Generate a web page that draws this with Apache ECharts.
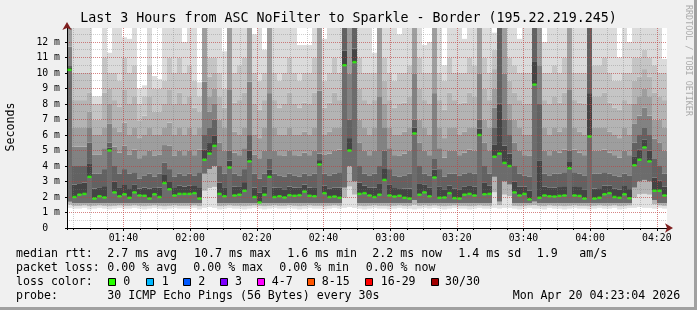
<!DOCTYPE html>
<html><head><meta charset="utf-8">
<script src="https://cdn.jsdelivr.net/npm/echarts/dist/echarts.min.js"></script>
<style>html,body{margin:0;padding:0;background:#f0f0f0}#c{width:697px;height:310px}</style>
</head><body><div id="c"></div>
<script>
// ---------------- data ----------------
const titleText = 'Last 3 Hours from ASC NoFilter to Sparkle - Border (195.22.219.245)';
const startMin = 83 + 4 / 60;   // 01:23:04
const spanMin = 180;            // 3 hours
const yMaxMs = 12.9;

// median rtt per column (ms)
const med = [
10.2,2.0,2.15,2.2,3.3,1.9,2.05,1.97,5.0,2.3,2.05,2.18,1.95,2.3,2.1,2.08,1.9,2.18,2.0,2.9,2.5,2.1,2.2,2.2,
2.2,2.25,1.9,4.4,4.8,5.3,2.2,2.05,3.9,2.1,2.15,2.4,4.3,2.0,1.65,2.15,3.3,2.0,2.05,1.97,2.12,2.08,2.12,2.35,
2.08,2.05,4.1,2.25,2.0,2.03,1.95,10.5,5.0,10.7,2.2,2.25,2.1,2.0,2.15,3.1,2.1,2.03,2.08,1.95,1.9,6.1,2.15,2.3,
2.05,3.26,1.95,1.97,2.25,1.93,1.9,2.15,2.2,2.1,6.0,2.18,2.2,4.6,4.8,4.2,4.0,2.3,2.1,2.2,1.85,9.25,1.95,2.1,
2.05,2.03,2.07,2.1,3.85,2.1,2.07,1.9,5.9,1.9,1.95,2.18,2.25,2.0,1.95,2.18,1.92,4.05,4.4,5.2,4.3,2.4,2.4,2.1
];
// smoke: lowest ping (ms)
const smokeLo = [
1.3,1.25,1.25,1.3,1.2,1.25,1.3,1.25,1.2,1.25,1.3,1.25,1.25,1.3,1.25,1.2,1.25,1.3,1.25,1.2,1.25,1.3,1.25,1.25,
1.25,1.3,1.2,1.3,1.35,1.3,1.2,1.25,1.3,1.25,1.25,1.2,1.25,1.3,1.25,1.2,1.25,1.3,1.25,1.25,1.3,1.25,1.2,1.25,
1.3,1.25,1.25,1.2,1.25,1.3,1.25,1.3,1.35,1.3,1.25,1.2,1.25,1.3,1.25,1.25,1.2,1.25,1.3,1.25,1.25,1.2,1.25,1.3,
1.25,1.3,1.25,1.2,1.25,1.3,1.25,1.25,1.2,1.25,1.3,1.25,1.25,1.3,1.25,1.3,1.3,1.25,1.2,1.25,1.3,1.25,1.25,1.2,
1.3,1.25,1.25,1.2,1.25,1.3,1.25,1.25,1.2,1.25,1.3,1.25,1.25,1.3,1.2,1.25,1.3,1.3,1.35,1.3,1.3,1.25,1.3,1.25
];
// smoke: top of sparse lower fringe (ms)
const smokeFringe = [
1.7,1.6,1.6,1.6,1.6,1.6,1.6,1.6,1.6,1.6,1.6,1.6,1.6,1.6,1.6,1.6,1.6,1.6,1.6,1.6,1.6,1.6,1.6,1.6,
1.6,1.6,1.6,3.5,3.8,4.0,1.6,1.6,1.6,1.6,1.6,1.6,1.6,1.6,1.6,1.6,1.6,1.6,1.6,1.6,1.6,1.6,1.6,1.6,
1.6,1.6,1.6,1.6,1.6,1.6,1.6,2.6,4.0,3.0,1.6,1.6,1.6,1.6,1.6,1.6,1.6,1.6,1.6,1.6,1.6,1.8,1.6,1.6,
1.6,1.6,1.6,1.6,1.6,1.6,1.6,1.6,1.6,1.6,1.6,1.6,1.6,3.3,1.7,3.0,2.8,1.6,1.6,1.6,1.6,1.7,1.6,1.6,
1.6,1.6,1.6,1.6,1.6,1.6,1.6,1.6,1.6,1.6,1.6,1.6,1.6,1.6,1.6,1.6,1.6,2.6,3.0,3.1,3.0,1.8,1.6,1.6
];
// smoke: top of dense dark band (ms)
const smokeDark = [
10.5,4,4,4,5.5,3.5,3.5,3.8,5.5,4,3.5,3.8,3.5,3.6,3.2,3.4,3.5,3.3,3.5,4.2,3.8,3.3,3.5,3.4,
3.5,3.4,3.6,6,6.5,7,4,3.5,5,3.5,3.4,3.8,6,3.5,3.2,3.5,4.5,3.5,3.4,3.3,3.5,3.4,3.3,3.5,
3.4,3.5,4.8,3.5,3.4,3.5,3.6,12.9,7,12.9,4,3.5,3.4,3.5,4,5,3.8,3.4,3.3,3.4,3.5,7,4,3.5,
3.4,4.5,3.8,3.3,3.5,3.5,3.4,3.5,3.6,3.5,7,4,3.5,6.5,12.9,7,6,4,3.5,3.4,3.3,12.9,8,3.5,
3.4,3.5,3.5,3.6,5,3.6,3.5,3.4,12.9,3.5,3.5,3.6,3.5,3.4,3.3,3.5,3.4,5.5,6,6.5,6,4.5,4,3.5
];
// smoke: top of medium band (ms)
const smokeMid = [
12.9,6.5,6.5,6.5,7.5,6,6,6.5,8,6.5,6.2,6.8,6,6.5,5.8,6,6.5,6,6,6.5,6.8,6,6.5,6,
6.5,6,6.5,12.9,8.5,9,7,6.5,12.9,6.2,6,6.5,12.9,6,5.8,6.5,12.9,6.5,6,6,6.5,6,6,6.2,
6,6.5,12.9,6,6.2,6.5,6.5,12.9,12.9,12.9,7,6.5,6,6.5,12.9,8,6.5,6,6,6.2,6.5,12.9,7,6.5,
6,12.9,6.5,5.8,6.5,6.5,6,6.2,6.5,6.5,12.9,7,6.5,9,12.9,12.9,8,7,6.5,6,6,12.9,12.9,6.5,
6,6.5,6.2,6.5,12.9,6.5,6.2,6,12.9,6.5,6.5,6.5,6.2,6,5.8,6.5,6,8,8.5,9,8.5,7,7,6.5
];
// smoke: top of light band (ms)
const smokeLight = [
12.9,10,10,10,10,8,8,11,10,10,9.5,11,10,10.5,8,8.5,10.5,9,9,9.5,11,10,11,10,
10.5,9.5,8.5,12.9,11,11,10,9,12.9,10,10.5,11,12.9,10,9.5,10,12.9,10,9.5,10,11,10,9.5,10,
10,11,12.9,9.5,10,11,10,12.9,12.9,12.9,11,10,10,10,12.9,11,10,9.5,10,10,10.5,12.9,11,10,
10,12.9,10,9.5,11,10,10,10,11,10.5,12.9,11,10,11.5,12.9,12.9,11,10.5,10,10,10,12.9,12.9,10,
10,10.5,10,11,12.9,10,10,10,12.9,10.5,10.5,11,10,9.5,9.5,10,10,11,11,11.5,11,10.5,10,10
];
// smoke: highest ping (ms)
const smokeHi = [
12.9,12.9,12.9,12.9,12.9,8.5,8.5,12.9,11.3,12.9,12.9,12.3,12.2,12.9,9,9.2,12.9,9.8,9.6,12.9,12.9,12.9,12.9,12,
12.9,12.9,9.4,12.9,12.9,12.9,12.9,11.4,12.9,12.9,12.9,12.9,12.9,12.5,12.9,11.5,12.9,12.9,12.9,12.9,12.9,12.9,11.8,11.8,
11.8,12.9,12.9,12.2,12.9,12.9,12.9,12.9,12.9,12.9,12.9,12.9,12.9,11.3,12.9,12.9,12.9,12.9,12.5,12.9,12.9,12.9,12.9,11.8,
12,12.9,12.9,10.5,12.9,12.9,12.9,12.2,12.9,12.9,12.9,12.9,12.9,12.6,12.9,12.9,12.9,12.9,12.2,12.9,12.9,12.9,12.9,12,
12.9,12.9,12.9,12.9,12.9,12.9,12.9,12.9,12.9,12.9,12.9,12.9,12.9,12.9,11,12.9,12,12.9,12.9,12.9,12.9,12.9,12.9,10.9
];

const rttItems  = ['median rtt:', '2.7 ms avg', '10.7 ms max', '1.6 ms min', '2.2 ms now', '1.4 ms sd', '1.9', 'am/s'];
const lossItems = ['packet loss:', '0.00 % avg', '0.00 % max', '0.00 % min', '0.00 % now'];
const lossColorLabel = 'loss color:';
const lossLabels = ['0', '1', '2', '3', '4-7', '8-15', '16-29', '30/30'];
const lossColors = ['#26ff00', '#00b8ff', '#0059ff', '#7e00ff', '#ff00ff', '#ff5500', '#ff0000', '#a10000'];
const probeItems = ['probe:', '30 ICMP Echo Pings (56 Bytes) every 30s', 'Mon Apr 20 04:23:04 2026'];
const yAxisTitle = 'Seconds';
const sideText = 'RRDTOOL / TOBI OETIKER';

// ---------------- layout / style ----------------
const MONO = '"DejaVu Sans Mono", monospace';
const rttX   = [16, 107.3, 194, 287.3, 372.3, 458.3, 536.7, 579.3];
const lossX  = [16, 107.3, 193.3, 279.3, 365.7];
const boxX   = [108.3, 145.7, 182.7, 220, 256.7, 306.7, 365.3, 430.7];
const boxLblX = [123.3, 161.7, 198.3, 235, 271.7, 321.7, 380.7, 445];
const probeX = [16, 107.3, 512.7];
const lineY = [254.3, 268.3, 282.3, 296.2];

// smoke shading: each band split in two tones for a softer gradient
const mix = (a, b, f) => a.map((v, i) => v + f * (b[i] - v));
const bounds = [
  smokeLo,
  mix(smokeLo, smokeFringe, 0.5), smokeFringe,
  med,
  mix(med, smokeDark, 0.4), smokeDark,
  mix(smokeDark, smokeMid, 0.5), smokeMid,
  mix(smokeMid, smokeLight, 0.5), smokeLight,
  smokeHi
];
const layerColors = ['rgba(0,0,0,0)', '#e2e2e2', '#b4b4b4', '#6c6c6c',
  '#444444', '#626262', '#828282', '#9e9e9e', '#b4b4b4', '#c5c5c5', '#dbdbdb'];

const cats = med.map((_, i) => i);
const series = bounds.map((arr, k) => ({
  type: 'bar', stack: 'smoke', xAxisIndex: 0, yAxisIndex: 2,
  barCategoryGap: '0%', silent: true, z: 2,
  itemStyle: { color: layerColors[k], borderWidth: 0 },
  data: arr.map((v, i) => +(v - (k ? bounds[k - 1][i] : 0)).toFixed(4))
}));
series.push({
  type: 'scatter', xAxisIndex: 0, yAxisIndex: 2, z: 6, silent: true,
  symbol: 'rect', symbolSize: [4, 2.5],
  itemStyle: { color: lossColors[0] },
  data: med.map((v, i) => [i, v])
});

const pad = n => String(n).padStart(2, '0');
const fmtTime = v => pad(Math.floor(Math.round(v) / 60)) + ':' + pad(Math.round(v) % 60);

const redGrid = { color: 'rgba(220,40,40,0.45)', type: [1, 1], width: 1 };
const grayGrid = { color: 'rgba(120,120,120,0.35)', type: [1, 1], width: 1 };

function txt(x, y, s, size, extra) {
  return Object.assign({ type: 'text', x, y, silent: true,
    style: { text: s, fontFamily: MONO, fontSize: size, fill: '#000', align: 'left', verticalAlign: 'middle' } }, extra || {});
}
const graphics = [];
graphics.push({ type: 'rect', silent: true, shape: { x: 694, y: 0, width: 3, height: 310 }, style: { fill: '#a0a0a0' } });
graphics.push({ type: 'rect', silent: true, shape: { x: 0, y: 307, width: 697, height: 3 }, style: { fill: '#a0a0a0' } });
graphics.push({ type: 'text', x: 348.5, y: 19, silent: true,
  style: { text: titleText, fontFamily: MONO, fontSize: 13.3, fill: '#000', align: 'center', verticalAlign: 'middle' } });
graphics.push({ type: 'text', x: 10.8, y: 127, rotation: Math.PI / 2, silent: true,
  style: { text: yAxisTitle, fontFamily: MONO, fontSize: 11.6, fill: '#000', align: 'center', verticalAlign: 'middle' } });
graphics.push({ type: 'text', x: 688.5, y: 5, rotation: -Math.PI / 2, silent: true,
  style: { text: sideText, fontFamily: MONO, fontSize: 8.4, fill: '#ababab', align: 'left', verticalAlign: 'middle' } });
rttItems.forEach((s, i) => graphics.push(txt(rttX[i], lineY[0], s, 11.6)));
lossItems.forEach((s, i) => graphics.push(txt(lossX[i], lineY[1], s, 11.6)));
graphics.push(txt(16, lineY[2], lossColorLabel, 11.6));
lossLabels.forEach((s, i) => {
  graphics.push({ type: 'rect', silent: true, shape: { x: Math.round(boxX[i]) + 0.5, y: 278.5, width: 7, height: 7 },
    style: { fill: lossColors[i], stroke: '#000', lineWidth: 1 } });
  graphics.push(txt(boxLblX[i], lineY[2], s, 11.6));
});
probeItems.forEach((s, i) => graphics.push(txt(probeX[i], lineY[3], s, 11.6)));

const hiddenAxisParts = { axisLine: { show: false }, axisTick: { show: false }, axisLabel: { show: false } };

const option = {
  animation: false,
  backgroundColor: '#f0f0f0',
  grid: { left: 67, top: 28, width: 600, height: 200, show: true, backgroundColor: '#ffffff', borderWidth: 0, containLabel: false },
  xAxis: [
    { type: 'category', data: cats, show: false, boundaryGap: true },
    { type: 'value', min: startMin, max: startMin + spanMin, splitNumber: 9, position: 'bottom', z: 3,
      axisLine: { show: true, onZero: false, symbol: ['none', 'arrow'], symbolSize: [7, 8], symbolOffset: [0, 6], lineStyle: { color: '#7f1f1f' } },
      axisTick: { show: false }, axisLabel: { show: false }, splitLine: { show: false } },
    { type: 'value', min: startMin, max: startMin + spanMin, splitNumber: 36, position: 'bottom', z: 3,
      ...hiddenAxisParts,
      axisTick: { show: true, length: 2, lineStyle: { color: '#000' } },
      splitLine: { show: true, showMinLine: false, showMaxLine: false, lineStyle: grayGrid } },
    { type: 'value', min: startMin, max: startMin + spanMin, splitNumber: 9, position: 'bottom', z: 3,
      axisLine: { show: true, onZero: false, lineStyle: { color: '#000', width: 1 } },
      axisTick: { show: true, length: 3, lineStyle: { color: '#000' } },
      axisLabel: { show: true, showMinLabel: false, showMaxLabel: false, formatter: fmtTime,
        fontFamily: MONO, fontSize: 9.8, color: '#000', margin: 5 },
      splitLine: { show: true, showMinLine: false, showMaxLine: false, lineStyle: redGrid } }
  ],
  yAxis: [
    { type: 'value', min: 0, max: yMaxMs, interval: 1, position: 'left', z: 3,
      axisLine: { show: true, onZero: false, symbol: ['none', 'arrow'], symbolSize: [7, 8], symbolOffset: [0, 6], lineStyle: { color: '#7f1f1f' } },
      axisTick: { show: false }, axisLabel: { show: false }, splitLine: { show: false } },
    { type: 'value', min: 0, max: yMaxMs, interval: 0.5, position: 'left', z: 3,
      ...hiddenAxisParts,
      splitLine: { show: true, showMinLine: false, showMaxLine: false, lineStyle: grayGrid } },
    { type: 'value', min: 0, max: yMaxMs, interval: 1, position: 'left', z: 3,
      axisLine: { show: true, onZero: false, lineStyle: { color: '#000', width: 1 } },
      axisTick: { show: true, length: 2, lineStyle: { color: '#000' } },
      axisLabel: { show: true, showMaxLabel: false, margin: 7, fontFamily: MONO, fontSize: 9.8, color: '#000',
        formatter: v => v === 0 ? '0  ' : v + ' m' },
      splitLine: { show: true, showMinLine: false, showMaxLine: false, lineStyle: redGrid } }
  ],
  series: series,
  graphic: graphics
};

const chart = echarts.init(document.getElementById('c'), null, { renderer: 'canvas' });
chart.setOption(option);
</script>
</body></html>
